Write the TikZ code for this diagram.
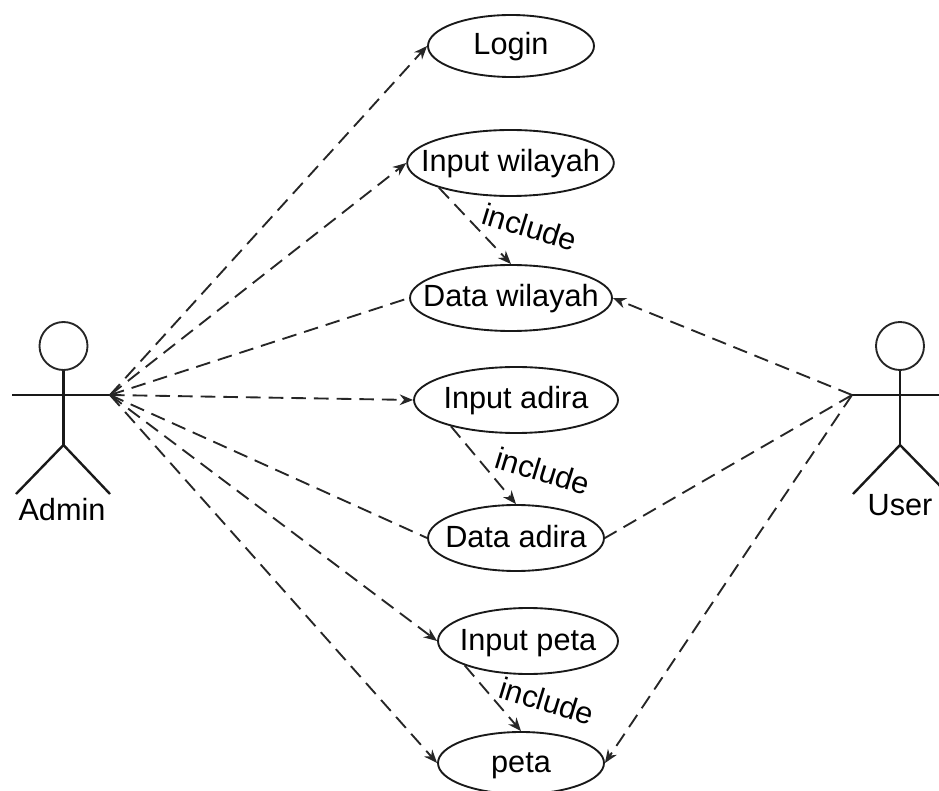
\documentclass[tikz,border=0pt]{standalone}
\usepackage{fontspec}
\setmainfont{Liberation Sans}
\usepackage{xcolor}
\usetikzlibrary{shapes,arrows.meta}
\newcommand{\uclabel}[1]{\makebox[0pt]{#1}}
\tikzset{
  ucnode/.style = {ellipse, draw=black!90, line width=1.4pt, inner sep=0pt,
    text height=16.5pt, text depth=3pt, font=\fontsize{23pt}{27pt}\selectfont},
  uc_head/.style = {circle, draw=black!85, line width=1.4pt, inner sep=0pt,
    minimum size=36pt},
  uc_text/.style = {inner sep=0pt, font=\fontsize{23pt}{27pt}\selectfont},
  uc_body/.style = {line width=1.8pt, black!90},
  uc_dash/.style = {line width=1.4pt, black!85, dash pattern=on 11pt off 6pt},
  uc_arrow/.style = {uc_dash, -{Stealth[length=10pt,width=8pt]}}
}
\begin{document}
\begin{tikzpicture}[x=0.75pt,y=-0.75pt]
\clip (0,0) rectangle (939,791);
\useasboundingbox (0,0) rectangle (939,791);
% actors
\node [uc_head] (admin_head) at (63.5,346) {};
\coordinate (admin_hip) at (63.5,445);
\coordinate (admin_l) at (12,395);
\coordinate (admin_r) at (110,395);
\coordinate (admin_lf) at (16,494);
\coordinate (admin_rf) at (110,494);
\draw [uc_body] (admin_head.south) -- (admin_hip);
\draw [uc_body] (admin_l) -- (admin_r);
\draw [uc_body] (admin_lf) -- (admin_hip) -- (admin_rf);
\node [uc_text, anchor=base] (admin_name) at (62,520) {Admin};
\node [uc_head] (user_head) at (900,346) {};
\coordinate (user_hip) at (900,445);
\coordinate (user_l) at (852,395);
\coordinate (user_r) at (948,395);
\coordinate (user_lf) at (853,494);
\coordinate (user_rf) at (948,494);
\draw [uc_body] (user_head.south) -- (user_hip);
\draw [uc_body] (user_l) -- (user_r);
\draw [uc_body] (user_lf) -- (user_hip) -- (user_rf);
\node [uc_text, anchor=base] (user_name) at (900,515) {User};
% use cases
\node [ucnode, minimum width=124.5pt, minimum height=46.5pt] (login) at (511,46) {\uclabel{Login}};
\node [ucnode, minimum width=155pt, minimum height=49.5pt] (in_wil) at (510.5,163) {\uclabel{Input wilayah}};
\node [ucnode, minimum width=151.5pt, minimum height=49.5pt] (dat_wil) at (511,298) {\uclabel{Data wilayah}};
\node [ucnode, minimum width=153pt, minimum height=49.5pt] (in_adi) at (516,400) {\uclabel{Input adira}};
\node [ucnode, minimum width=132pt, minimum height=49.5pt] (dat_adi) at (516,538) {\uclabel{Data adira}};
\node [ucnode, minimum width=135pt, minimum height=49.5pt] (in_pet) at (528,641) {\uclabel{Input peta}};
\node [ucnode, minimum width=124.5pt, minimum height=46.5pt] (pet) at (521,763) {\uclabel{peta}};
% admin
\draw [uc_arrow] (admin_r) -- (login.west);
\draw [uc_arrow] (admin_r) -- (in_wil.west);
\draw [uc_dash] (admin_r) -- (dat_wil.west);
\draw [uc_arrow] (admin_r) -- (in_adi.west);
\draw [uc_dash] (admin_r) -- (dat_adi.west);
\draw [uc_arrow] (admin_r) -- (in_pet.west);
\draw [uc_arrow] (admin_r) -- (pet.west);
% user
\draw [uc_arrow] (user_l) -- (dat_wil.east);
\draw [uc_dash] (user_l) -- (dat_adi.east);
\draw [uc_arrow] (user_l) -- (pet.east);
% include
\draw [uc_arrow] (in_wil.199) -- (dat_wil.north);
\draw [uc_arrow] (in_adi.202) -- (dat_adi.north);
\draw [uc_arrow] (in_pet.201) -- (pet.north);
\node [uc_text, rotate=-17] (inc_wil) at (530,227) {include};
\node [uc_text, rotate=-17] (inc_adi) at (543,471) {include};
\node [uc_text, rotate=-17] (inc_pet) at (547,701) {include};
\end{tikzpicture}
\end{document}
